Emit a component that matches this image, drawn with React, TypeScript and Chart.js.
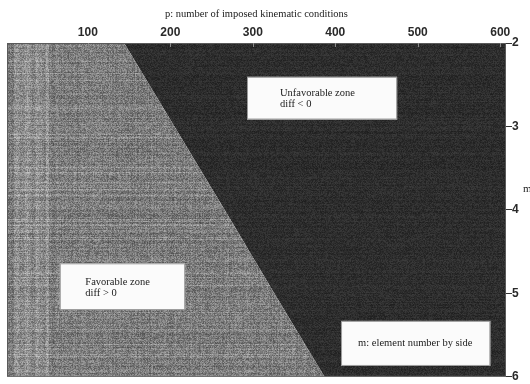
import { useEffect, useRef } from "react";
import { Chart, registerables } from "chart.js";
Chart.register(...registerables);

// ---- data ----
const mLevels = [2, 3, 4, 5, 6];
const boundaryP = [144, 205, 266, 326, 387];
const pTicks = [100, 200, 300, 400, 500, 600];
const mTicks = [2, 3, 4, 5, 6];
const P_MIN = 2;
const P_MAX = 607;
const M_MIN = 2;
const M_MAX = 6;
const xTitle = "p: number of imposed kinematic conditions";
const yTitle = "m";
const unfavorableText = ["Unfavorable zone", "diff < 0"];
const favorableText = ["Favorable zone", "diff > 0"];
const mLegendText = "m: element number by side";

const SERIF = "'Liberation Serif', 'Times New Roman', serif";
const SANS = "'Liberation Sans', Arial, sans-serif";

function hash(n: number) {
  const s = Math.sin(n * 12.9898 + 78.233) * 43758.5453;
  return s - Math.floor(s);
}

function makePattern(
  ctx: CanvasRenderingContext2D,
  w: number,
  h: number,
  shade: (x: number, y: number) => number,
  blur: number
) {
  const c = document.createElement("canvas");
  c.width = w;
  c.height = h;
  const g = c.getContext("2d")!;
  const img = g.createImageData(w, h);
  for (let y = 0; y < h; y++) {
    for (let x = 0; x < w; x++) {
      const v = Math.max(0, Math.min(255, Math.round(shade(x, y))));
      const i = (y * w + x) * 4;
      img.data[i] = v;
      img.data[i + 1] = v;
      img.data[i + 2] = v;
      img.data[i + 3] = 255;
    }
  }
  g.putImageData(img, 0, 0);
  const c2 = document.createElement("canvas");
  c2.width = w;
  c2.height = h;
  const g2 = c2.getContext("2d")!;
  g2.drawImage(c, 0, 0);
  g2.filter = `blur(${blur}px)`;
  g2.drawImage(c, 0, 0);
  return ctx.createPattern(c2, "repeat")!;
}

function grayShade(x: number, y: number) {
  let col = (hash(x * 3.1 + 11) - 0.5) * 16;
  if (x >= 14 && x <= 48) col += 18 + 10 * Math.sin((x - 14) * 0.6);
  let row = (hash(y * 2.3 + 5) - 0.5) * 22;
  if (hash(y * 7.9 + 1) > 0.86) row += 18;
  const n = (hash(x * 131.7 + y * 977.3) - 0.5) * 60;
  return 122 + col + row + n;
}

function darkShade(x: number, y: number) {
  const row = (hash(y * 4.1 + 2) - 0.5) * 8;
  const n = (hash(x * 57.1 + y * 313.7) - 0.5) * 24;
  return 45 + row + n;
}

const overlayPlugin = {
  id: "overlay",
  afterDatasetsDraw(chart: any) {
    const { ctx, chartArea } = chart;
    const xs = chart.scales.x;
    const ys = chart.scales.y;
    ctx.save();
    // frame
    ctx.strokeStyle = "#5a5a5a";
    ctx.lineWidth = 1;
    ctx.strokeRect(
      chartArea.left + 0.5,
      chartArea.top + 0.5,
      chartArea.right - chartArea.left - 1,
      chartArea.bottom - chartArea.top - 1
    );
    // inward tick marks on top axis
    ctx.strokeStyle = "#8a8a8a";
    pTicks.forEach((p) => {
      const px = Math.round(xs.getPixelForValue(p)) + 0.5;
      ctx.beginPath();
      ctx.moveTo(px, chartArea.top);
      ctx.lineTo(px, chartArea.top + 4);
      ctx.stroke();
    });

    const box = (x0: number, y0: number, x1: number, y1: number) => {
      ctx.fillStyle = "#fbfbfb";
      ctx.fillRect(x0, y0, x1 - x0, y1 - y0);
      ctx.strokeStyle = "#9a9a9a";
      ctx.strokeRect(x0 + 0.5, y0 + 0.5, x1 - x0 - 1, y1 - y0 - 1);
    };
    ctx.font = `10.5px ${SERIF}`;
    ctx.fillStyle = "#1a1a1a";
    ctx.textBaseline = "middle";

    // Unfavorable zone box
    box(
      xs.getPixelForValue(293),
      ys.getPixelForValue(2.405),
      xs.getPixelForValue(475),
      ys.getPixelForValue(2.917)
    );
    ctx.fillStyle = "#1a1a1a";
    ctx.textAlign = "left";
    const ux = xs.getPixelForValue(333);
    ctx.fillText(unfavorableText[0], ux, ys.getPixelForValue(2.6));
    ctx.fillText(unfavorableText[1], ux, ys.getPixelForValue(2.73));

    // Favorable zone box
    box(
      xs.getPixelForValue(66),
      ys.getPixelForValue(4.64),
      xs.getPixelForValue(218),
      ys.getPixelForValue(5.2)
    );
    ctx.fillStyle = "#1a1a1a";
    const fx = xs.getPixelForValue(97);
    ctx.fillText(favorableText[0], fx, ys.getPixelForValue(4.87));
    ctx.fillText(favorableText[1], fx, ys.getPixelForValue(5.0));

    // m legend box
    box(
      xs.getPixelForValue(407),
      ys.getPixelForValue(5.33),
      xs.getPixelForValue(588),
      ys.getPixelForValue(5.87)
    );
    ctx.fillStyle = "#1a1a1a";
    ctx.textAlign = "center";
    ctx.fillText(
      mLegendText,
      xs.getPixelForValue(497),
      ys.getPixelForValue(5.6)
    );

    // right axis title
    ctx.textAlign = "left";
    ctx.font = `11px ${SERIF}`;
    ctx.fillText(yTitle, chartArea.right + 17, ys.getPixelForValue(3.75));
    ctx.restore();
  },
};

export default function App() {
  const ref = useRef<HTMLCanvasElement | null>(null);
  useEffect(() => {
    const canvas = ref.current!;
    const ctx = canvas.getContext("2d")!;
    const grayPat = makePattern(ctx, 530, 384, grayShade, 0.6);
    const darkPat = makePattern(ctx, 530, 384, darkShade, 0.5);
    const pts = mLevels.map((m, i) => ({ x: boundaryP[i], y: m }));
    const chart = new Chart(canvas, {
      type: "line",
      data: {
        datasets: [
          {
            label: "Favorable zone",
            data: pts,
            fill: { value: P_MIN },
            backgroundColor: grayPat,
            borderWidth: 0,
            pointRadius: 0,
          },
          {
            label: "Unfavorable zone",
            data: pts,
            fill: { value: P_MAX },
            backgroundColor: darkPat,
            borderWidth: 0,
            pointRadius: 0,
          },
        ],
      },
      options: {
        indexAxis: "y",
        responsive: false,
        animation: false,
        events: [],
        layout: { padding: { left: 7, bottom: 5, top: 0, right: 0 } },
        plugins: {
          legend: { display: false },
          tooltip: { enabled: false },
        },
        scales: {
          x: {
            type: "linear",
            position: "top",
            min: P_MIN,
            max: P_MAX,
            afterBuildTicks: (s: any) => {
              s.ticks = pTicks.map((v) => ({ value: v }));
            },
            afterFit: (s: any) => {
              s.height = 43;
            },
            grid: { drawOnChartArea: false, drawTicks: false },
            border: { display: false },
            ticks: {
              padding: 3,
              color: "#2a2a2a",
              font: { family: SANS, size: 12, weight: "bold" },
            },
            title: {
              display: true,
              text: xTitle,
              color: "#1a1a1a",
              font: { family: SERIF, size: 10.5 },
              padding: { top: 8, bottom: 0 },
            },
          },
          y: {
            type: "linear",
            position: "right",
            reverse: true,
            min: M_MIN,
            max: M_MAX,
            afterBuildTicks: (s: any) => {
              s.ticks = mTicks.map((v) => ({ value: v }));
            },
            afterFit: (s: any) => {
              s.width = 24;
            },
            grid: {
              drawOnChartArea: false,
              drawTicks: true,
              tickLength: 6,
              color: "#333",
            },
            border: { display: false },
            ticks: {
              padding: 0,
              color: "#2a2a2a",
              font: { family: SANS, size: 12, weight: "bold" },
            },
          },
        },
      },
      plugins: [overlayPlugin],
    } as any);
    return () => chart.destroy();
  }, []);
  return (
    <div style={{ position: "fixed", left: 0, top: 0, width: 530, height: 384, background: "#fff" }}>
      <canvas ref={ref} width={530} height={384} style={{ display: "block" }} />
    </div>
  );
}
